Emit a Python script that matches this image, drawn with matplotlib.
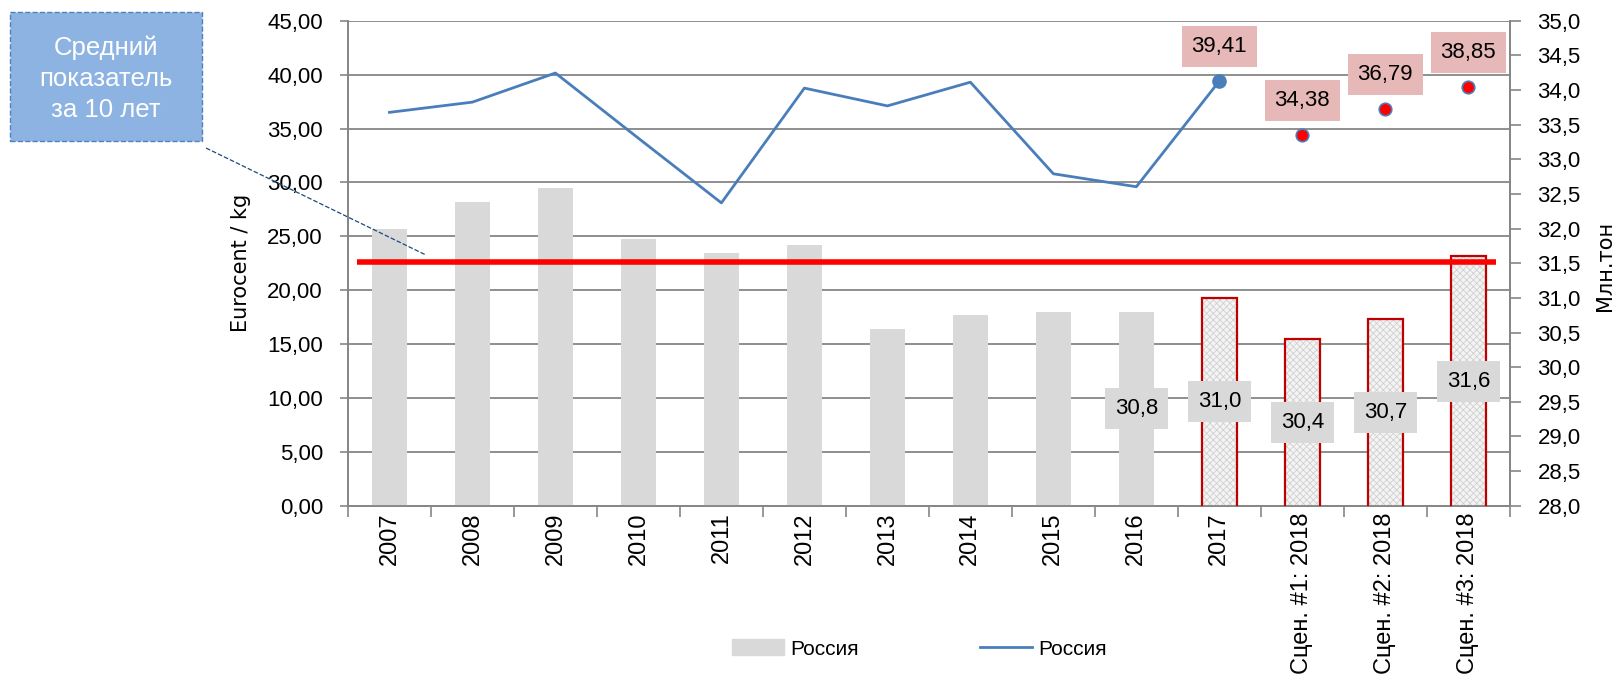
import numpy as np
import matplotlib
matplotlib.use('Agg')
import matplotlib.pyplot as plt
from matplotlib.patches import Patch, Rectangle
from matplotlib.lines import Line2D
from matplotlib.ticker import FuncFormatter

## data
categories = ['2007', '2008', '2009', '2010', '2011', '2012', '2013', '2014', '2015',
              '2016', '2017', 'Сцен. #1: 2018', 'Сцен. #2: 2018', 'Сцен. #3: 2018']
volume_mt = [32.0, 32.38, 32.58, 31.85, 31.65, 31.77, 30.55, 30.76, 30.8, 30.8,
             31.0, 30.4, 30.7, 31.6]          # Млн.тон, right axis (bars)
price_hist = [36.5, 37.45, 40.15, 34.1, 28.1, 38.75, 37.1, 39.3, 30.8, 29.6, 39.41]  # Eurocent/kg
scenario_price = [34.38, 36.79, 38.85]
labelled_bars = [9, 10, 11, 12, 13]
n_hist = 10  # years in the average

sans = ['Liberation Sans', 'DejaVu Sans']
plt.rcParams['hatch.linewidth'] = 0.6

def comma(v, digits):
    return f'{v:.{digits}f}'.replace('.', ',')

x = np.arange(len(categories))
grey = '#868686'
blue = '#4a7ebb'

fig = plt.figure(figsize=(16.16, 6.85), dpi=100)
ax1 = fig.add_axes([0.2153, 0.2617, 0.719, 0.708])
ax2 = ax1.twinx()

## bars (Млн.тон) on the secondary axis
w = 0.42
ax2.bar(x[:n_hist], volume_mt[:n_hist], width=w, color='#d9d9d9', zorder=2)
ax2.bar(x[n_hist:], volume_mt[n_hist:], width=w, color='#f4f4f4', hatch='xxxxx',
        edgecolor='#d0d0d0', linewidth=0, zorder=2)
ax2.bar(x[n_hist:], volume_mt[n_hist:], width=w, fill=False, edgecolor='#c00000',
        linewidth=1.6, zorder=3)

avg = np.mean(volume_mt[:n_hist])
ax2.plot([-0.39, 13.33], [avg, avg], color='#ff0000', lw=4, zorder=4, solid_capstyle='butt')

for i in labelled_bars:
    ax2.text(x[i], (28 + volume_mt[i]) / 2, comma(volume_mt[i], 1), ha='center', va='center',
             fontsize=16, family=sans, zorder=5,
             bbox=dict(boxstyle='square,pad=0.45', fc='#d9d9d9', ec='none'))

ax2.set_ylim(28, 35)
ax2.set_yticks(np.arange(28, 35.01, 0.5))
ax2.yaxis.set_major_formatter(FuncFormatter(lambda v, p: comma(v, 1)))

## price line on the primary axis
xh = x[:len(price_hist)]
ax1.plot(xh, price_hist, color=blue, lw=2, zorder=3)
ax1.plot(xh[-1], price_hist[-1], 'o', color=blue, ms=9.5, zorder=4)
xs = x[len(price_hist):]
ax1.plot(xs, scenario_price, 'o', ls='none', color='#ff0000', mec=blue, mew=1.2, ms=9, zorder=4)
for xi, v in zip(list(xs) + [xh[-1]], scenario_price + [price_hist[-1]]):
    ax1.annotate(comma(v, 2), (xi, v), xytext=(0, 25), textcoords='offset points',
                 ha='center', va='center', fontsize=16, family=sans,
                 bbox=dict(boxstyle='square,pad=0.45', fc='#e6b8b7', ec='none'))

ax1.set_ylim(0, 45)
ax1.set_yticks(np.arange(0, 45.01, 5))
ax1.yaxis.set_major_formatter(FuncFormatter(lambda v, p: comma(v, 2)))
ax1.grid(axis='y', color=grey, lw=1.3)
ax1.set_axisbelow(True)
ax1.set_xlim(-0.5, len(categories) - 0.5)

ax1.set_xticks(x)
ax1.set_xticklabels(categories, rotation=90, fontsize=17, family=sans)
ax1.set_xticks(np.arange(-0.5, len(categories), 1), minor=True)
ax1.tick_params(axis='x', which='major', length=0, pad=5)
ax1.tick_params(axis='x', which='minor', length=8, color=grey, width=1.2)
ax1.tick_params(axis='y', length=6, color=grey, width=1.2, pad=12)
ax2.tick_params(axis='y', length=8, color=grey, width=1.2, pad=12)
for lab in ax1.get_yticklabels() + ax2.get_yticklabels():
    lab.set_fontsize(16)
    lab.set_family(sans)

for ax in (ax1, ax2):
    ax.spines['top'].set_visible(False)
    for s in ('left', 'right', 'bottom'):
        ax.spines[s].set_color(grey)
        ax.spines[s].set_linewidth(1.3)

ax1.set_ylabel('Eurocent / kg', fontsize=15, family='DejaVu Sans', va='center')
ax1.yaxis.set_label_coords(-0.092, 0.5)
ax2.set_ylabel('Млн.тон', fontsize=15, family='DejaVu Sans', rotation=90, va='center')
ax2.yaxis.set_label_coords(1.0818, 0.494)

## legend
handles = [Patch(color='#d9d9d9'), Line2D([], [], color=blue, lw=2)]
fig.legend(handles, ['Россия', 'Россия'], loc='center', bbox_to_anchor=(0.569, 0.0526),
           ncol=2, frameon=False, prop={'family': sans, 'size': 15},
           handlelength=2.5, handleheight=0.8, handletextpad=0.3, columnspacing=5.8)

## call-out box for the average line
fig.patches.append(Rectangle((0.00619, 0.7942), 0.1188, 0.1883, transform=fig.transFigure,
                             fc='#8db3e2', ec='#4f81bd', ls='--', lw=1))
fig.text(0.0656, 0.8847, 'Средний\nпоказатель\nза 10 лет', ha='center', va='center',
         color='white', fontsize=18.5, family=sans, linespacing=1.38)
fig.lines.append(Line2D([0.1275, 0.2636], [0.7839, 0.6277], transform=fig.transFigure,
                        color='#1f497d', ls='--', lw=0.9))

fig.savefig('out.png', dpi=100)
